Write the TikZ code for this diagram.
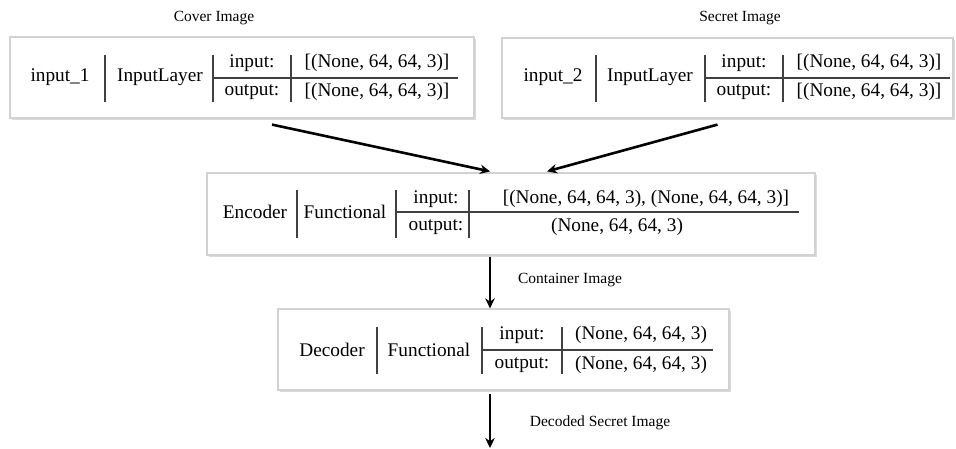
\documentclass[tikz,border=0pt]{standalone}
\usepackage{fontspec}
\setmainfont{Liberation Serif}
\usetikzlibrary{arrows.meta,calc}
\begin{document}
\begin{tikzpicture}[x=1pt,y=-1pt,
  layerbox/.style={draw=gray!35,line width=1.2pt,fill=white,inner sep=0pt},
  shade/.style={fill=gray!28,draw=none},
  txt/.style={font=\fontsize{19.3}{22}\selectfont,inner sep=0pt,anchor=center},
  lbl/.style={font=\fontsize{15.5}{18}\selectfont,inner sep=0pt,anchor=center},
  sep/.style={line width=1.4pt,black!75},
  flow/.style={line width=2.6pt,-{Stealth[length=10pt,width=9.5pt]}}]
\useasboundingbox (0,0) rectangle (956,449);

% --- box outlines with a faint shadow ---
\fill[shade] (11.5,39) rectangle (475.5,120);
\node[layerbox,minimum width=464pt,minimum height=81pt] (b1) at (242,77.5) {};
\fill[shade] (503.5,40) rectangle (954.5,120);
\node[layerbox,minimum width=451pt,minimum height=80pt] (b2) at (727.5,78) {};
\fill[shade] (208.5,175) rectangle (816.5,257);
\node[layerbox,minimum width=608pt,minimum height=82pt] (enc) at (511,214) {};
\fill[shade] (279.5,311) rectangle (730.5,392);
\node[layerbox,minimum width=451pt,minimum height=81pt] (dec) at (503.5,349.5) {};

% --- titles ---
\node[lbl] (t1) at (214,18) {Cover Image};
\node[lbl] (t2) at (740,18) {Secret Image};

% --- input_1 ---
\node[txt] at (60,77) {input\_1};
\draw[sep] (105,55) -- (105,102);
\node[txt] at (160,77) {InputLayer};
\draw[sep] (213,55) -- (213,102);
\node[txt] at (252,63) {input:};
\node[txt] at (252,92) {output:};
\draw[sep] (291,55) -- (291,102);
\draw[sep] (213,78) -- (458,78);
\node[txt] at (377,63) {[(None, 64, 64, 3)]};
\node[txt] at (377,92) {[(None, 64, 64, 3)]};

% --- input_2 ---
\node[txt] at (553,77) {input\_2};
\draw[sep] (596,55) -- (596,102);
\node[txt] at (650,77) {InputLayer};
\draw[sep] (705,55) -- (705,102);
\node[txt] at (744,63) {input:};
\node[txt] at (744,92) {output:};
\draw[sep] (783,55) -- (783,102);
\draw[sep] (705,78) -- (950,78);
\node[txt] at (869,63) {[(None, 64, 64, 3)]};
\node[txt] at (869,92) {[(None, 64, 64, 3)]};

% --- Encoder ---
\node[txt] at (255,212) {Encoder};
\draw[sep] (297,190) -- (297,238);
\node[txt] at (345,212) {Functional};
\draw[sep] (396,190) -- (396,238);
\node[txt] at (436,199) {input:};
\node[txt] at (436,227) {output:};
\draw[sep] (469,190) -- (469,238);
\draw[sep] (396,212) -- (799,212);
\node[txt] at (646,199) {[(None, 64, 64, 3), (None, 64, 64, 3)]};
\node[txt] at (617,227) {(None, 64, 64, 3)};

% --- Decoder ---
\node[txt] at (332,350) {Decoder};
\draw[sep] (377,327) -- (377,374);
\node[txt] at (429,350) {Functional};
\draw[sep] (482,327) -- (482,374);
\node[txt] at (522,335) {input:};
\node[txt] at (522,365) {output:};
\draw[sep] (562,327) -- (562,374);
\draw[sep] (482,350) -- (713,350);
\node[txt] at (641,335) {(None, 64, 64, 3)};
\node[txt] at (641,365) {(None, 64, 64, 3)};

% --- data flow ---
\draw[flow] ($(b1.south)+(30,6)$) -- ($(enc.north)+(-21,-1)$);
\draw[flow] ($(b2.south)+(-10,6)$) -- ($(enc.north)+(36,-1)$);
\draw[flow] ($(enc.south)+(-21,1)$) -- ($(dec.north)+(-13.5,0)$);
\node[lbl] at (570,280) {Container Image};
\coordinate (out) at (490,448);
\draw[flow] ($(dec.south)+(-13.5,3)$) -- (out);
\node[lbl] at (600,423) {Decoded Secret Image};
\end{tikzpicture}
\end{document}
